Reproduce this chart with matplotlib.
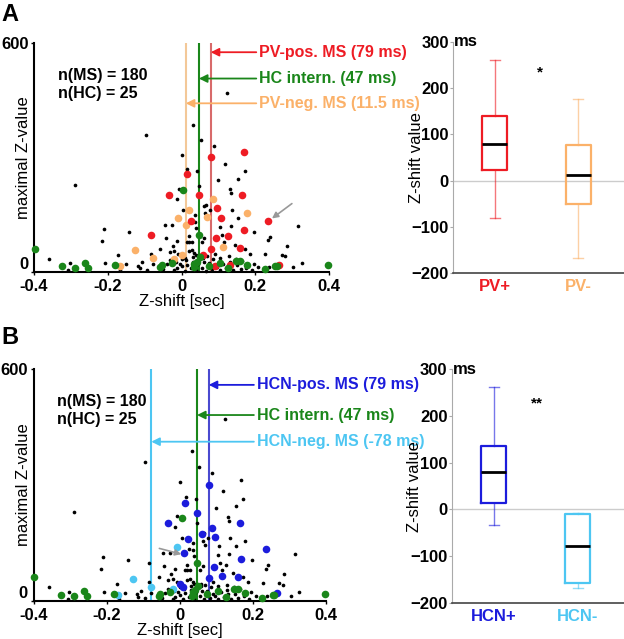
import matplotlib
matplotlib.use("Agg")
import matplotlib.pyplot as plt

plt.rcParams['font.family'] = ['Liberation Sans', 'DejaVu Sans']
plt.rcParams['font.weight'] = 'bold'
plt.rcParams['font.size'] = 11.5

# --- datos: neuronas MS sin marcar (z-shift [s], Z maximo) ---
ms_shift = [0.123, 0.032, -0.096, 0.053, 0.089, 0.000, 0.118, 0.016, 0.172, 0.043,
            0.100, 0.154, -0.289, -0.007, 0.132, 0.134, -0.013, 0.066, 0.077, 0.064,
            0.138, 0.037, 0.005, 0.037, 0.039, 0.154, 0.104, 0.134, 0.197, 0.240,
            0.315, 0.020, 0.020, 0.062, 0.116, 0.145, 0.172, 0.186, 0.226, 0.272,
            0.285, 0.303, 0.326, 0.208, 0.238,
            -0.210, -0.215, -0.143, -0.045, -0.027, -0.042, -0.024, -0.013, -0.020, -0.359,
            -0.172, -0.084, -0.207, -0.151, -0.106, -0.118, -0.113, -0.094, -0.078, -0.302,
            -0.307, -0.040, -0.031, -0.015, -0.013, -0.167,
            0.014, 0.028, 0.055, 0.109, -0.058, -0.031, -0.009, 0.020, 0.028, 0.035,
            0.040, 0.030, 0.058, 0.070, 0.085, 0.105, 0.000, 0.012, -0.081,
            -0.050, -0.020, 0.000, 0.008, 0.015, 0.025, 0.040, 0.045, 0.055, 0.065,
            0.075, 0.082, 0.095, 0.105, 0.112, 0.120, 0.130, 0.140, 0.150, 0.160,
            0.165, 0.175, 0.190, 0.195, 0.148, 0.128, 0.090, 0.060, 0.030, -0.005,
            0.235, 0.281]
ms_zval = [470, 387, 359, 346, 330, 308, 285, 270, 265, 265,
           241, 245, 230, 219, 217, 208, 192, 176, 162, 154,
           164, 149, 162, 132, 116, 142, 119, 121, 106, 92,
           121, 94, 79, 91, 79, 72, 62, 49, 47, 46,
           69, 14, 23, 14, 14,
           113, 82, 105, 123, 123, 90, 69, 82, 56, 35,
           45, 49, 24, 21, 27, 17, 10, 7, 21, 24,
           5, 21, 31, 27, 10, 5,
           79, 79, 80, 97, 62, 53, 49, 55, 58, 50,
           45, 40, 38, 42, 35, 38, 35, 32, 36,
           8, 5, 15, 4, 20, 10, 6, 22, 12, 4,
           25, 8, 14, 5, 22, 10, 28, 6, 18, 8,
           30, 12, 5, 22, 35, 42, 48, 26, 28, 22,
           84, 42]

# interneuronas de hipocampo
hc_shift = [-0.398, -0.325, -0.288, -0.262, -0.255, -0.180, -0.058, -0.054, -0.027, 0.005,
            0.047, 0.050, 0.035, 0.042, 0.033, 0.073, 0.104, 0.127, 0.148, 0.159,
            0.177, 0.225, 0.254, 0.258, 0.398]
hc_zval = [62, 16, 12, 25, 12, 18, 14, 18, 23, 215,
           97, 40, 22, 28, 14, 17, 25, 10, 30, 30,
           20, 8, 16, 16, 18]

# MS PV-positivas / PV-negativas
pvpos_shift = [0.168, 0.080, 0.014, 0.046, 0.163, -0.033, 0.095, 0.107, 0.025, 0.235,
               0.168, 0.127, 0.094, -0.083, 0.159, 0.080, 0.057, 0.263, 0.132, 0.091]
pvpos_zval = [314, 302, 257, 202, 202, 203, 168, 143, 134, 134,
              112, 94, 91, 97, 64, 60, 45, 20, 18, 17]
pvneg_shift = [-0.009, -0.126, -0.078, -0.167, -0.020, 0.086, 0.020, 0.177, 0.068, 0.011,
               0.113, 0.000]
pvneg_zval = [141, 58, 38, 17, 34, 191, 162, 154, 145, 125,
              66, 46]

# MS HCN-positivas / HCN-negativas
hcnpos_shift = [0.080, 0.014, 0.046, 0.165, -0.031, 0.087, 0.060, 0.096, 0.022, 0.235,
                0.012, 0.168, 0.094, 0.115, 0.080, 0.158, 0.001, 0.010, 0.265]
hcnpos_zval = [300, 254, 227, 201, 201, 190, 173, 166, 160, 134,
               123, 109, 89, 65, 59, 63, 44, 37, 20]
hcnneg_shift = [-0.008, -0.127, -0.079, -0.168, -0.019]
hcnneg_zval = [139, 56, 35, 16, 31]

# medianas (s) y su Z para las flechas
a_medians = [0.079, 0.047, 0.0115]
a_arrow_z = [577, 508, 443]
a_texts = ['PV-pos. MS (79 ms)', 'HC intern. (47 ms)', 'PV-neg. MS (11.5 ms)']
b_medians = [0.079, 0.047, -0.078]
b_arrow_z = [559, 481, 412]
b_texts = ['HCN-pos. MS (79 ms)', 'HC intern. (47 ms)', 'HCN-neg. MS (-78 ms)']

# diagramas de caja (ms)
pv_labels = ['PV+', 'PV-']
pv_med = [80, 12]
pv_q1 = [22, -50]
pv_q3 = [140, 77]
pv_lo = [-82, -168]
pv_hi = [262, 177]
hcn_labels = ['HCN+', 'HCN-']
hcn_med = [80, -78]
hcn_q1 = [13, -157]
hcn_q3 = [135, -10]
hcn_lo = [-33, -167]
hcn_hi = [262, -7]

RED = '#ee1c24'
ORANGE = '#fbb169'
GREEN = '#1a861a'
BLUE = '#1c1cdc'
CYAN = '#4dc6f2'


def dispersion(ax, pos_x, pos_y, neg_x, neg_y, otros_x, otros_y, c_pos, c_neg,
               medianas, flecha_z, textos, line_cols, gris_flecha):
    negros_x = ms_shift + otros_x
    negros_y = ms_zval + otros_y
    ax.scatter(negros_x, negros_y, s=7, color='black', zorder=3, clip_on=False, lw=0)
    ax.scatter(neg_x, neg_y, s=30, color=c_neg, zorder=4, clip_on=False, lw=0)
    ax.scatter(pos_x, pos_y, s=30, color=c_pos, zorder=4, clip_on=False, lw=0)
    ax.scatter(hc_shift, hc_zval, s=30, color=GREEN, zorder=5, clip_on=False, lw=0)

    cols_txt = [c_pos, GREEN, c_neg]
    for m, z, t, lc, tc in zip(medianas, flecha_z, textos, line_cols, cols_txt):
        ax.plot([m, m], [0, 600], color=lc, lw=1.5, zorder=2)
        ax.annotate(t, xy=(m, z), xytext=(0.21, z), color=tc, fontsize=11.5,
                    fontweight='bold', ha='left', va='center', annotation_clip=False,
                    arrowprops=dict(arrowstyle='-|>', color=tc, lw=1.3,
                                    shrinkA=0, shrinkB=0, mutation_scale=12))

    ax.annotate('', xy=gris_flecha[1], xytext=gris_flecha[0],
                arrowprops=dict(arrowstyle='-|>', color='#999999', lw=1.2,
                                shrinkA=0, shrinkB=0, mutation_scale=9), zorder=6)

    ax.text(-0.335, 516, 'n(MS) = 180', ha='left', va='center')
    ax.text(-0.335, 469, 'n(HC) = 25', ha='left', va='center')

    ax.set_xlim(-0.4, 0.4)
    ax.set_ylim(0, 600)
    ax.set_xticks([-0.4, -0.2, 0, 0.2, 0.4])
    ax.set_xticklabels(['-0.4', '-0.2', '0', '0.2', '0.4'])
    ax.set_yticks([0, 600])
    ax.tick_params(length=2, width=1, pad=2, labelsize=12)
    ax.tick_params(axis='x', pad=3)
    ax.get_yticklabels()[0].set_va('bottom')
    for s in ['top', 'right']:
        ax.spines[s].set_visible(False)
    for s in ['left', 'bottom']:
        ax.spines[s].set_linewidth(1.5)
    ax.set_xlabel('Z-shift [sec]', labelpad=0, fontsize=12)
    ax.set_ylabel('maximal Z-value', fontsize=12)
    ax.yaxis.set_label_coords(-0.01, 0.5)


def cajas(ax, etiquetas, med, q1, q3, lo, hi, colores, estrellas, estrella_x, estrella_y):
    stats = []
    for e, m, a, b, l, h in zip(etiquetas, med, q1, q3, lo, hi):
        stats.append(dict(label=e, med=m, q1=a, q3=b, whislo=l, whishi=h, fliers=[]))
    ax.axhline(0, color='#cccccc', lw=1, zorder=0)
    bp = ax.bxp(stats, positions=[1, 2], widths=0.3, showfliers=False, patch_artist=False,
                capwidths=0.12)
    for i, c in enumerate(colores):
        bp['boxes'][i].set(color=c, lw=1.6)
        bp['medians'][i].set(color='black', lw=2)
        for w in bp['whiskers'][2 * i:2 * i + 2]:
            w.set(color=c, lw=1, alpha=0.6)
        for cp in bp['caps'][2 * i:2 * i + 2]:
            cp.set(color=c, lw=1, alpha=0.6)
    ax.set_xlim(0.5, 2.55)
    ax.set_ylim(-200, 300)
    ax.set_yticks([-200, -100, 0, 100, 200, 300])
    ax.set_xticks([1, 2])
    ax.set_xticklabels(etiquetas)
    for lab, c in zip(ax.get_xticklabels(), colores):
        lab.set_color(c)
    ax.tick_params(axis='x', length=0, pad=4, labelsize=12)
    ax.tick_params(axis='y', length=2, color='#aaaaaa', pad=1, labelsize=12)
    for s in ['top', 'right']:
        ax.spines[s].set_visible(False)
    ax.spines['left'].set_color('#aaaaaa')
    ax.spines['bottom'].set_color('#444444')
    ax.spines['bottom'].set_linewidth(1.2)
    ax.set_ylabel('Z-shift value', fontsize=12)
    ax.yaxis.set_label_coords(-0.17, 0.5)
    ax.text(0.515, 300, 'ms', ha='left', va='center', fontsize=12)
    ax.text(estrella_x, estrella_y, estrellas, ha='center', va='center', fontsize=11)


fig = plt.figure(figsize=(6.24, 6.39), dpi=100)

ax_a = fig.add_axes([0.0545, 0.574, 0.473, 0.358])
dispersion(ax_a, pvpos_shift, pvpos_zval, pvneg_shift, pvneg_zval,
           hcnpos_shift + hcnneg_shift, hcnpos_zval + hcnneg_zval, RED, ORANGE,
           a_medians, a_arrow_z, a_texts, ['#d86a6a', GREEN, '#f3c898'],
           [(0.299, 180), (0.245, 141)])

ax_b = fig.add_axes([0.0537, 0.0595, 0.469, 0.363])
dispersion(ax_b, hcnpos_shift, hcnpos_zval, hcnneg_shift, hcnneg_zval,
           pvpos_shift + pvneg_shift, pvpos_zval + pvneg_zval, BLUE, CYAN,
           b_medians, b_arrow_z, b_texts, ['#4a4ad0', GREEN, CYAN],
           [(-0.056, 136), (0.004, 121)])

ax_c = fig.add_axes([0.726, 0.5728, 0.274, 0.3615])
cajas(ax_c, pv_labels, pv_med, pv_q1, pv_q3, pv_lo, pv_hi, [RED, ORANGE], '*', 1.54, 235)

ax_d = fig.add_axes([0.724, 0.0563, 0.276, 0.366])
cajas(ax_d, hcn_labels, hcn_med, hcn_q1, hcn_q3, hcn_lo, hcn_hi, [BLUE, CYAN], '**', 1.52, 227)

fig.text(0.003, 0.995, 'A', fontsize=17, fontweight='bold', ha='left', va='top')
fig.text(0.003, 0.49, 'B', fontsize=17, fontweight='bold', ha='left', va='top')

fig.savefig('out.png', dpi=100)
